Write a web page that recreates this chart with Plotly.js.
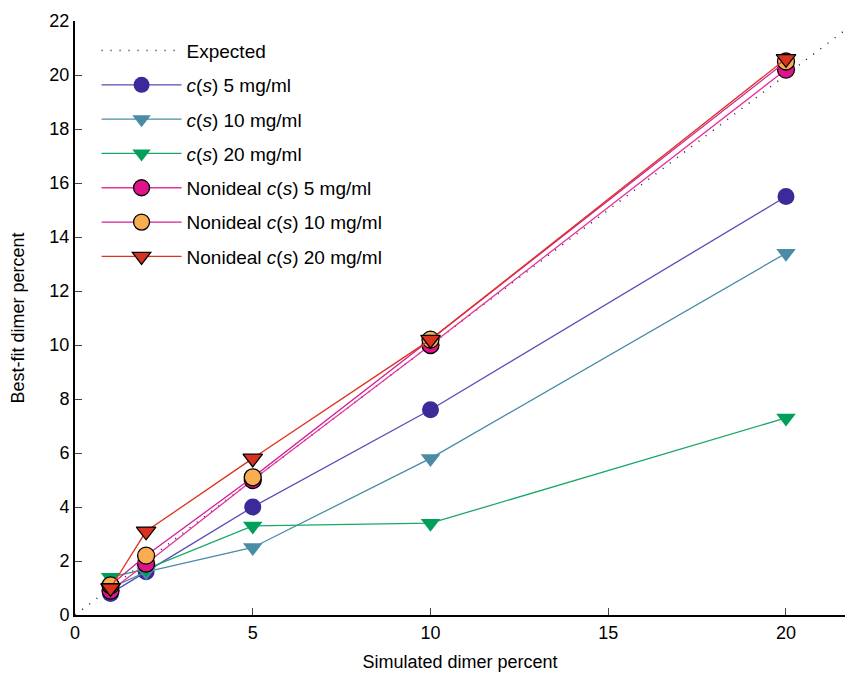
<!DOCTYPE html>
<html>
<head>
<meta charset="utf-8">
<script src="https://cdn.plot.ly/plotly-3.0.1.min.js"></script>
<style>html,body{margin:0;padding:0;background:#fff;}#chart{width:845px;height:675px;}</style>
</head>
<body>
<div id="chart"></div>
<script>
const simulated = [1, 2, 5, 10, 20];
const expectedX = [0, 22];
const expectedY = [0, 22];
const cs5 = [0.8, 1.6, 4.0, 7.6, 15.5];
const cs10 = [1.0, 1.6, 2.5, 5.8, 13.4];
const cs20 = [1.4, 1.7, 3.3, 3.4, 7.3];
const non5 = [0.9, 1.9, 5.0, 10.0, 20.2];
const non10 = [1.1, 2.2, 5.1, 10.2, 20.5];
const non20 = [1.0, 3.1, 5.8, 10.2, 20.6];
const names = ['Expected', '<i>c</i>(<i>s</i>) 5 mg/ml', '<i>c</i>(<i>s</i>) 10 mg/ml', '<i>c</i>(<i>s</i>) 20 mg/ml',
  'Nonideal <i>c</i>(<i>s</i>) 5 mg/ml', 'Nonideal <i>c</i>(<i>s</i>) 10 mg/ml', 'Nonideal <i>c</i>(<i>s</i>) 20 mg/ml'];

function series(y, name, lineColor, markerColor, symbol, outline, grp) {
  return {
    x: simulated, y: y, name: name, type: 'scatter', mode: 'lines+markers', legendgroup: grp,
    line: {color: lineColor, width: 1.3},
    marker: {color: markerColor, symbol: symbol, size: 17,
      line: {color: outline ? '#000' : markerColor, width: outline ? 1.3 : 0}}
  };
}

const data = [
  {x: expectedX, y: expectedY, name: names[0], type: 'scatter', mode: 'lines', legendgroup: 'g0',
   line: {color: '#222', width: 1.5, dash: '1px,8px'}},
  series(cs5, names[1], '#5a4ab8', '#3b2a9a', 'circle', false, 'g1'),
  series(cs10, names[2], '#4a8ba6', '#4a8ba6', 'triangle-down', false, 'g2'),
  series(cs20, names[3], '#1aa868', '#00a05a', 'triangle-down', false, 'g3'),
  series(non5, names[4], '#e8339a', '#e0148a', 'circle', true, 'g4'),
  series(non10, names[5], '#d0209a', '#f8ae50', 'circle', true, 'g5'),
  series(non20, names[6], '#e03020', '#d83220', 'triangle-down', true, 'g6')
];

const axisFont = {family: '"Liberation Sans Narrow", "Liberation Sans", Arial, sans-serif', size: 18, color: '#000'};
const layout = {
  width: 845, height: 675,
  margin: {l: 75, r: 0, t: 21, b: 60},
  paper_bgcolor: '#fff', plot_bgcolor: '#fff',
  showlegend: true,
  legend: {x: 0.028, y: 0.982, xanchor: 'left', yanchor: 'top', bgcolor: 'rgba(0,0,0,0)',
    font: {family: '"Liberation Sans", Arial, sans-serif', size: 19, color: '#000'},
    itemwidth: 80, tracegroupgap: 6.6},
  xaxis: {range: [0, 21.66], tickvals: [0, 5, 10, 15, 20], ticks: 'inside', ticklen: 7, tickwidth: 1,
    showline: true, linewidth: 2, linecolor: '#000', showgrid: false, zeroline: false,
    tickfont: axisFont, title: {text: 'Simulated dimer percent', font: axisFont, standoff: 14}},
  yaxis: {range: [0, 22], dtick: 2, ticks: 'inside', ticklen: 7, tickwidth: 1,
    showline: true, linewidth: 2, linecolor: '#000', showgrid: false, zeroline: false,
    tickfont: axisFont, title: {text: 'Best-fit dimer percent', font: axisFont, standoff: 20}}
};

Plotly.newPlot('chart', data, layout, {displayModeBar: false, staticPlot: true});
</script>
</body>
</html>
